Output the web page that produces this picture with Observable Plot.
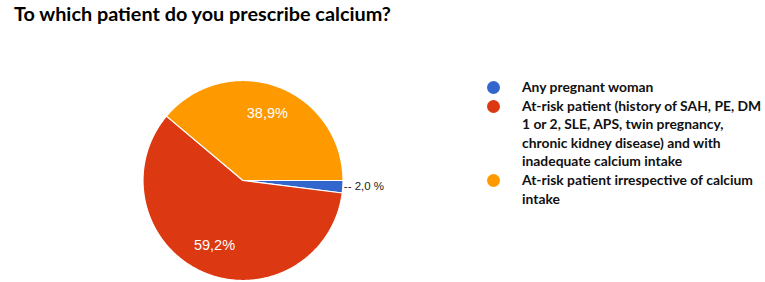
<!DOCTYPE html>
<html><head><meta charset="utf-8">
<script src="https://cdn.jsdelivr.net/npm/d3@7"></script>
<script src="https://cdn.jsdelivr.net/npm/@observablehq/plot@0.6"></script>
<style>
body{margin:0;background:#fff;width:765px;height:282px;overflow:hidden;position:relative}
#title{position:absolute;left:14px;top:1px;font-family:Lato,sans-serif;font-weight:bold;color:#000;white-space:nowrap}
#chart{position:absolute;left:0;top:0}
#legend{position:absolute;left:487px;top:78px;font-family:Lato,sans-serif;font-weight:bold;color:#111;white-space:nowrap}
.item{position:relative;padding-left:35px;line-height:18.6px}
.dot{position:absolute;left:0;top:3px;width:13px;height:13px;border-radius:50%}
</style></head>
<body>
<div id="title"></div>
<div id="chart"></div>
<div id="legend"></div>
<script>
const title = "To which patient do you prescribe calcium?";
const categories = [
  "Any pregnant woman",
  "At-risk patient (history of SAH, PE, DM 1 or 2, SLE, APS, twin pregnancy, chronic kidney disease) and with inadequate calcium intake",
  "At-risk patient irrespective of calcium intake"
];
const legendLines = [
  ["Any pregnant woman"],
  ["At-risk patient (history of SAH, PE, DM", "1 or 2, SLE, APS, twin pregnancy,", "chronic kidney disease) and with", "inadequate calcium intake"],
  ["At-risk patient irrespective of calcium", "intake"]
];
const values = [2.0, 59.2, 38.9];
const valueLabels = ["-- 2,0 %", "59,2%", "38,9%"];
const colors = ["#3366cc", "#dc3912", "#ff9900"];

// fit font sizes to the reference text widths
const ctx = document.createElement("canvas").getContext("2d");
function fitSize(text, target) {
  ctx.font = "bold 100px Lato";
  return 100 * target / ctx.measureText(text).width;
}
const titleEl = document.getElementById("title");
titleEl.textContent = title;
titleEl.style.fontSize = Math.min(22, fitSize(title, 378)) + "px";

const arcs = d3.pie().sort(null).startAngle(Math.PI / 2).endAngle(Math.PI / 2 + 2 * Math.PI)(values);
const pts = [];
arcs.forEach((a, i) => {
  const cat = categories[i];
  pts.push({cat, x: 0, y: 0});
  const n = Math.max(2, Math.ceil((a.endAngle - a.startAngle) / 0.01));
  for (let k = 0; k <= n; k++) {
    const t = a.startAngle + (a.endAngle - a.startAngle) * k / n;
    pts.push({cat, x: Math.sin(t), y: Math.cos(t)});
  }
});
const inside = [], outside = [];
arcs.forEach((a, i) => {
  const m = (a.startAngle + a.endAngle) / 2;
  if (values[i] < 5) outside.push({x: Math.sin(m) * 1.01, y: Math.cos(m) * 1.01, label: valueLabels[i]});
  else inside.push({x: Math.sin(m) * 0.71, y: Math.cos(m) * 0.71, label: valueLabels[i]});
});

const chart = Plot.plot({
  width: 765, height: 282,
  marginTop: 0, marginBottom: 0, marginLeft: 0, marginRight: 0,
  x: {domain: [-1, 1], range: [142.5, 342.5], axis: null},
  y: {domain: [-1, 1], range: [280, 80], axis: null},
  color: {domain: categories, range: colors},
  style: {background: "transparent"},
  marks: [
    Plot.line(pts, {x: "x", y: "y", z: "cat", fill: "cat", stroke: "white", strokeWidth: 1.2, curve: "linear-closed"}),
    Plot.text(inside, {x: "x", y: "y", text: "label", fill: "white", fontSize: 14.5, fontFamily: "Liberation Sans, Arial, sans-serif"}),
    Plot.text(outside, {x: "x", y: "y", text: "label", fill: "#222", fontSize: 11.5, textAnchor: "start", dy: -1, fontFamily: "Liberation Sans, Arial, sans-serif"})
  ]
});
document.getElementById("chart").appendChild(chart);

const lg = document.getElementById("legend");
lg.style.fontSize = fitSize(legendLines[1][0], 240) + "px";
legendLines.forEach((lines, i) => {
  const d = document.createElement("div");
  d.className = "item";
  const dot = document.createElement("span");
  dot.className = "dot";
  dot.style.background = colors[i];
  d.appendChild(dot);
  lines.forEach(l => { const s = document.createElement("div"); s.textContent = l; d.appendChild(s); });
  lg.appendChild(d);
});
</script>
</body></html>
